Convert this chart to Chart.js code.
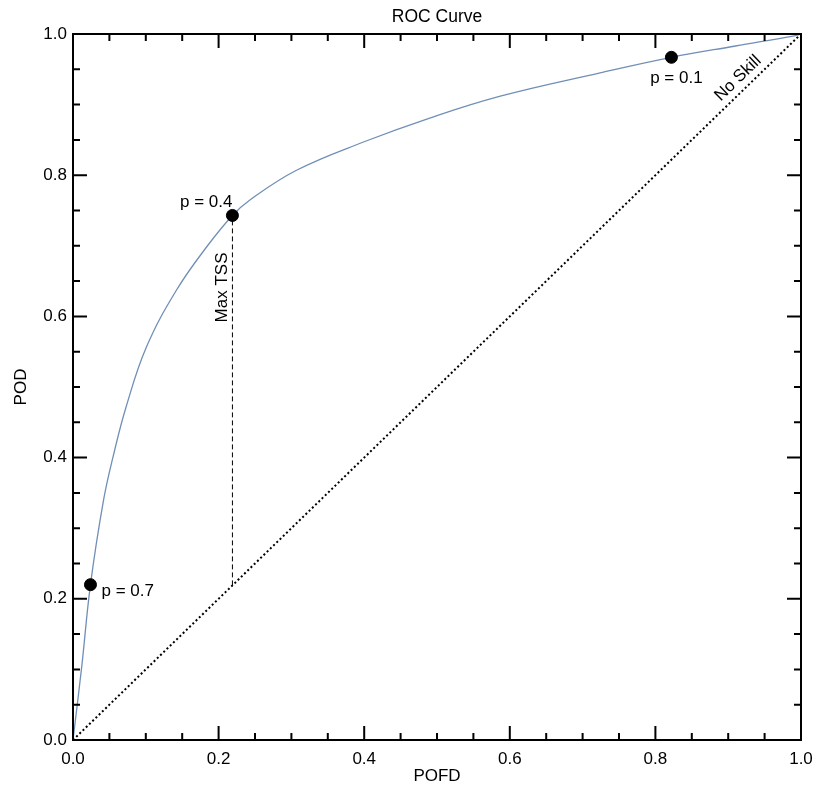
<!DOCTYPE html>
<html>
<head>
<meta charset="utf-8">
<title>ROC Curve</title>
<script src="https://cdn.jsdelivr.net/npm/chart.js@4.4.1/dist/chart.umd.min.js"></script>
<style>
  html, body { margin: 0; padding: 0; background: #fff; }
</style>
</head>
<body>
<canvas id="roc" width="816" height="787"></canvas>
<script>
// ROC curve
const curveX = [0, 0.012, 0.024, 0.042, 0.055, 0.073, 0.101, 0.142, 0.184, 0.219, 0.243, 0.307, 0.399, 0.490, 0.587, 0.724, 0.822, 0.910, 0.989, 1.0];
const curveY = [0, 0.104, 0.220, 0.340, 0.401, 0.472, 0.557, 0.637, 0.699, 0.743, 0.765, 0.807, 0.847, 0.881, 0.912, 0.945, 0.967, 0.983, 0.997, 1.0];

// no skill diagonal
const skillX = [0, 1];
const skillY = [0, 1];

// probability thresholds
const probX = [0.024, 0.219, 0.822];
const probY = [0.220, 0.743, 0.967];
const probLabels = ['p = 0.7', 'p = 0.4', 'p = 0.1'];

// max TSS line
const tssX = [0.219, 0.219];
const tssY = [0.219, 0.743];

const tickValues = [0, 0.2, 0.4, 0.6, 0.8, 1.0];

const FONT = '17px "Liberation Sans", Arial, sans-serif';

const toPoints = (xs, ys) => xs.map((v, i) => ({ x: v, y: ys[i] }));

// frame, inward ticks and the text labels
const rocDecor = {
    id: 'rocDecor',
    afterDraw(chart) {
        const { ctx, chartArea: a, scales: { x, y } } = chart;
        ctx.save();

        ctx.strokeStyle = '#000';
        ctx.lineWidth = 2;
        ctx.strokeRect(a.left, a.top, a.right - a.left, a.bottom - a.top);

        // major every 0.2, minor every 0.05, on all four sides
        for (let i = 0; i <= 20; i++) {
            const v = i / 20;
            const len = i % 4 === 0 ? 14 : 7;
            const px = x.getPixelForValue(v);
            const py = y.getPixelForValue(v);
            ctx.beginPath();
            ctx.moveTo(px, a.bottom); ctx.lineTo(px, a.bottom - len);
            ctx.moveTo(px, a.top); ctx.lineTo(px, a.top + len);
            ctx.moveTo(a.left, py); ctx.lineTo(a.left + len, py);
            ctx.moveTo(a.right, py); ctx.lineTo(a.right - len, py);
            ctx.stroke();
        }

        ctx.fillStyle = '#000';
        ctx.font = FONT;
        ctx.textBaseline = 'middle';

        // title + axis titles
        ctx.textAlign = 'center';
        ctx.font = '17.5px "Liberation Sans", Arial, sans-serif';
        ctx.fillText('ROC Curve', (a.left + a.right) / 2, 17);
        ctx.font = FONT;
        ctx.fillText('POFD', (a.left + a.right) / 2, 776);
        ctx.save();
        ctx.translate(21, (a.top + a.bottom) / 2);
        ctx.rotate(-Math.PI / 2);
        ctx.fillText('POD', 0, 0);
        ctx.restore();

        // threshold labels
        const offsets = [[11, 7, 'left'], [0, -13, 'right'], [5, 21, 'center']];
        probLabels.forEach((txt, i) => {
            const [dx, dy, align] = offsets[i];
            ctx.textAlign = align;
            ctx.fillText(txt, x.getPixelForValue(probX[i]) + dx, y.getPixelForValue(probY[i]) + dy);
        });

        // Max TSS, vertical beside the dashed line
        ctx.save();
        ctx.translate(x.getPixelForValue(tssX[1]) - 10, y.getPixelForValue(tssY[1]) + 72);
        ctx.rotate(-Math.PI / 2);
        ctx.textAlign = 'center';
        ctx.fillText('Max TSS', 0, 0);
        ctx.restore();

        // No Skill, along the diagonal
        const x0 = x.getPixelForValue(0), y0 = y.getPixelForValue(0);
        const x1 = x.getPixelForValue(1), y1 = y.getPixelForValue(1);
        const ang = Math.atan2(y1 - y0, x1 - x0);
        ctx.save();
        ctx.translate(x.getPixelForValue(0.925), y.getPixelForValue(0.925));
        ctx.rotate(ang);
        ctx.textAlign = 'center';
        ctx.fillText('No Skill', 0, -12);
        ctx.restore();

        ctx.restore();
    }
};

new Chart(document.getElementById('roc'), {
    type: 'scatter',
    data: {
        datasets: [
            {
                label: 'thresholds',
                data: toPoints(probX, probY),
                pointRadius: 6,
                pointBackgroundColor: '#000',
                pointBorderColor: '#000',
                showLine: false
            },
            {
                label: 'ROC',
                data: toPoints(curveX, curveY),
                showLine: true,
                borderColor: 'rgb(112, 143, 182)',
                borderWidth: 1.3,
                pointRadius: 0,
                tension: 0.4
            },
            {
                label: 'Max TSS',
                data: toPoints(tssX, tssY),
                showLine: true,
                borderColor: '#000',
                borderWidth: 1,
                borderDash: [5, 3],
                pointRadius: 0
            },
            {
                label: 'No Skill',
                data: toPoints(skillX, skillY),
                showLine: true,
                borderColor: '#000',
                borderWidth: 2,
                borderDash: [2, 2.5],
                pointRadius: 0
            }
        ]
    },
    options: {
        responsive: false,
        animation: false,
        devicePixelRatio: 1,
        layout: { padding: { top: 34, right: 15, left: 0, bottom: 0 } },
        plugins: {
            legend: { display: false },
            title: { display: false },
            tooltip: { enabled: false }
        },
        scales: {
            x: {
                type: 'linear',
                min: 0,
                max: 1,
                afterFit: (scale) => {
                    scale.height = 47;
                    scale.paddingLeft = 0;
                    scale.paddingRight = 0;
                },
                afterBuildTicks: (scale) => { scale.ticks = tickValues.map(v => ({ value: v })); },
                grid: { display: false, drawTicks: false },
                border: { display: false },
                ticks: {
                    padding: 9,
                    color: '#000',
                    font: { family: '"Liberation Sans", Arial, sans-serif', size: 17 },
                    callback: (v) => Number(v).toFixed(1)
                }
            },
            y: {
                type: 'linear',
                min: 0,
                max: 1,
                afterFit: (scale) => {
                    scale.width = 73;
                    scale.paddingTop = 0;
                    scale.paddingBottom = 0;
                },
                afterBuildTicks: (scale) => { scale.ticks = tickValues.map(v => ({ value: v })); },
                grid: { display: false, drawTicks: false },
                border: { display: false },
                ticks: {
                    padding: 6,
                    color: '#000',
                    font: { family: '"Liberation Sans", Arial, sans-serif', size: 17 },
                    callback: (v) => Number(v).toFixed(1)
                }
            }
        }
    },
    plugins: [rocDecor]
});
</script>
</body>
</html>
